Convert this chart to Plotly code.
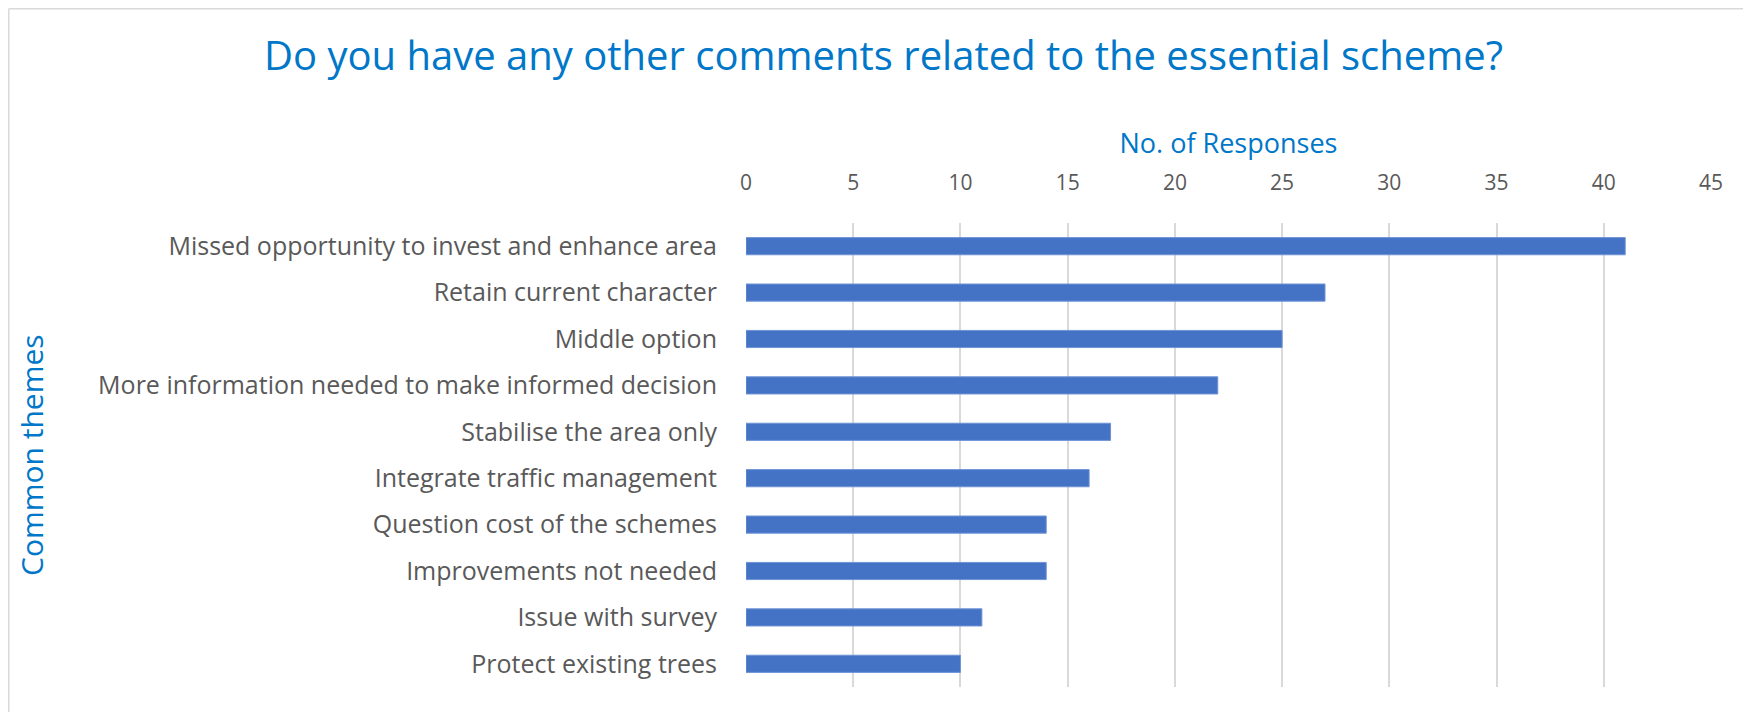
import plotly.graph_objects as go

categories = [
    "Missed opportunity to invest and enhance area",
    "Retain current character",
    "Middle option",
    "More information needed to make informed decision",
    "Stabilise the area only",
    "Integrate traffic management",
    "Question cost of the schemes",
    "Improvements not needed",
    "Issue with survey",
    "Protect existing trees",
]
responses = [41, 27, 25, 22, 17, 16, 14, 14, 11, 10]
tick_values = [0, 5, 10, 15, 20, 25, 30, 35, 40, 45]

title_text = "Do you have any other comments related to the essential scheme?"
x_title = "No. of Responses"
y_title = "Common themes"

BLUE = "#0077C8"
GREY = "#595959"
FONT = "Open Sans"

L, R, T, B = 738, 1703, 215, 679  # plot area in figure pixels
W, H = 1751, 712
PW, PH = R - L, B - T

fig = go.Figure(go.Bar(
    x=responses,
    y=categories,
    orientation="h",
    marker=dict(color="#4472C4", line=dict(color="#6F93D6", width=1)),
))

fig.update_layout(
    width=W, height=H,
    margin=dict(l=L, r=W - R, t=T, b=H - B),
    paper_bgcolor="white", plot_bgcolor="white",
    bargap=0.63,
    showlegend=False,
    title=dict(text=title_text, x=0.5, xanchor="center", y=1 - 48 / H, yanchor="middle",
               font=dict(family=FONT, size=40, color=BLUE)),
    xaxis=dict(
        side="top", range=[0, 45], tickvals=tick_values,
        showgrid=True, gridcolor="#D9D9D9", gridwidth=1.5,
        zeroline=False, showline=False, ticks="",
        ticklabelstandoff=28,
        tickfont=dict(family=FONT, size=21, color=GREY),
        title=dict(text=x_title, font=dict(family=FONT, size=27, color=BLUE), standoff=6),
    ),
    yaxis=dict(
        autorange="reversed", showgrid=False, zeroline=False, showline=False,
        ticks="", ticklabelstandoff=28,
        tickfont=dict(family=FONT, size=25, color=GREY),
    ),
    shapes=[
        dict(type="line", xref="paper", yref="paper",
             x0=(1 - L) / PW, x1=(W - L) / PW,
             y0=(B - 0.5) / PH, y1=(B - 0.5) / PH,
             line=dict(color="#D9D9D9", width=2)),
        dict(type="line", xref="paper", yref="paper",
             x0=(0.5 - L) / PW, x1=(0.5 - L) / PW,
             y0=(B - 0.5) / PH, y1=(B - H) / PH,
             line=dict(color="#D9D9D9", width=2)),
    ],
    annotations=[
        dict(text=y_title, textangle=-90, xref="paper", yref="paper",
             x=(23 - L) / PW, y=(B - 447) / PH, xanchor="center", yanchor="middle",
             showarrow=False, font=dict(family=FONT, size=30, color=BLUE)),
    ],
)

fig.write_html("out.html")
